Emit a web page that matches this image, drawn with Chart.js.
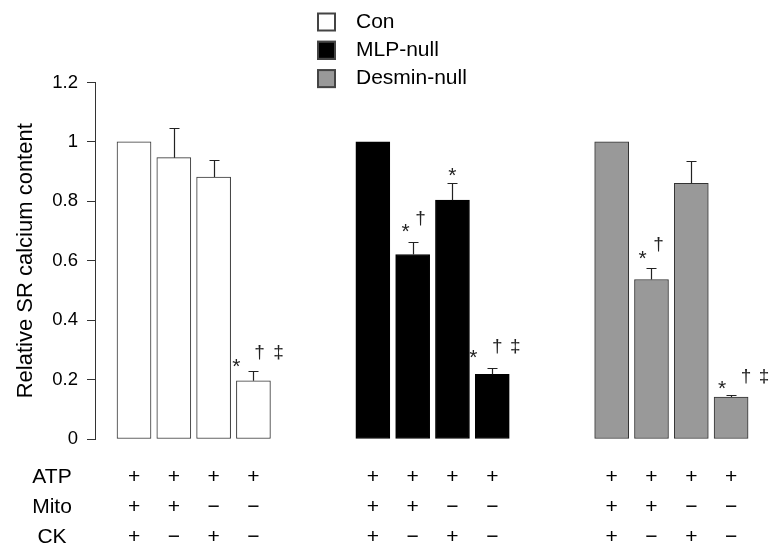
<!DOCTYPE html>
<html>
<head>
<meta charset="utf-8">
<script src="https://cdn.jsdelivr.net/npm/chart.js@4/dist/chart.umd.min.js"></script>
<style>
  html, body { margin: 0; padding: 0; background: #fff; }
  canvas { display: block; }
</style>
</head>
<body>
<canvas id="c" width="778" height="544"></canvas>
<script>
// ---------- data ----------
const seriesNames = ['Con', 'MLP-null', 'Desmin-null'];
const conValues = [1.0, 0.947, 0.882, 0.196];
const conErrors = [0, 0.099, 0.057, 0.033];
const mlpValues = [1.0, 0.621, 0.804, 0.218];
const mlpErrors = [0, 0.041, 0.058, 0.022];
const desminValues = [1.0, 0.537, 0.861, 0.141];
const desminErrors = [0, 0.039, 0.076, 0.007];
const conMarks = ['', '', '', '*†‡'];
const mlpMarks = ['', '*†', '*', '*†‡'];
const desminMarks = ['', '*†', '', '*†‡'];
const rowLabels = ['ATP', 'Mito', 'CK'];
const atpRow = ['+', '+', '+', '+'];
const mitoRow = ['+', '+', '\u2212', '\u2212'];
const ckRow = ['+', '\u2212', '+', '\u2212'];
const yTicks = [0, 0.2, 0.4, 0.6, 0.8, 1, 1.2];

// ---------- layout / style ----------
const FONT = '"Liberation Sans", Arial, Helvetica, sans-serif';
const groupStart = [0, 6, 12];
const fills = ['#ffffff', '#000000', '#999999'];
const borders = ['#333333', '#000000', '#333333'];
// pixel offsets of significance symbols relative to (bar centre, error-bar top)
const markOffsets = {
  '0-3': [[-17, -9], [6, -18], [25, -18]],
  '1-1': [[-7, -15], [8, -24]],
  '1-2': [[0, -12]],
  '1-3': [[-19, -14], [5, -21], [23, -21]],
  '2-1': [[-9, -14], [7, -23]],
  '2-3': [[-9, -11], [15, -18], [33, -18]]
};

const values = [conValues, mlpValues, desminValues];
const errors = [conErrors, mlpErrors, desminErrors];
const marks = [conMarks, mlpMarks, desminMarks];
const rows = [atpRow, mitoRow, ckRow];

const datasets = seriesNames.map((name, g) => ({
  label: name,
  data: values[g].map((v, i) => ({ x: groupStart[g] + i, y: v })),
  backgroundColor: fills[g],
  borderColor: borders[g],
  borderWidth: 1,
  borderSkipped: false,
  barThickness: 34,
  grouped: false
}));

const extras = {
  id: 'extras',
  afterDatasetsDraw(chart) {
    const ctx = chart.ctx;
    const xs = chart.scales.x, ys = chart.scales.y;
    ctx.save();
    // error bars
    ctx.strokeStyle = '#222';
    ctx.lineWidth = 1.2;
    values.forEach((vals, g) => {
      vals.forEach((v, i) => {
        const e = errors[g][i];
        if (!e) return;
        const x = Math.round(xs.getPixelForValue(groupStart[g] + i)) + 0.5;
        const y0 = ys.getPixelForValue(v);
        const y1 = Math.round(ys.getPixelForValue(v + e)) + 0.5;
        ctx.beginPath();
        ctx.moveTo(x, y0); ctx.lineTo(x, y1);
        ctx.moveTo(x - 5, y1); ctx.lineTo(x + 5, y1);
        ctx.stroke();
      });
    });
    // significance marks
    ctx.fillStyle = '#222';
    ctx.textAlign = 'center';
    ctx.textBaseline = 'middle';
    marks.forEach((ms, g) => {
      ms.forEach((m, i) => {
        if (!m) return;
        const offs = markOffsets[g + '-' + i];
        const x = xs.getPixelForValue(groupStart[g] + i);
        const y = ys.getPixelForValue(values[g][i] + errors[g][i]);
        Array.from(m).forEach((ch, k) => {
          ctx.font = (ch === '*' ? '21px ' : '19px ') + FONT;
          ctx.fillText(ch, x + offs[k][0], y + offs[k][1] + (ch === '*' ? 5 : 0));
        });
      });
    });
    // condition table
    ctx.fillStyle = '#000';
    ctx.font = '21px ' + FONT;
    const rowY = [477, 507, 537];
    rowLabels.forEach((lab, r) => {
      ctx.textAlign = 'center';
      ctx.fillText(lab, 52, rowY[r]);
      groupStart.forEach(gs => {
        rows[r].forEach((s, i) => {
          ctx.fillText(s, xs.getPixelForValue(gs + i), rowY[r]);
        });
      });
    });
    // legend
    ctx.textAlign = 'left';
    ctx.font = '21px ' + FONT;
    seriesNames.forEach((name, g) => {
      const cy = 22 + g * 28.3;
      ctx.fillStyle = fills[g];
      ctx.fillRect(317, cy - 9.5, 19, 19);
      ctx.strokeStyle = '#444';
      ctx.lineWidth = 2;
      ctx.strokeRect(318, cy - 8.5, 17, 17);
      ctx.fillStyle = '#000';
      ctx.fillText(name, 356, cy);
    });
    ctx.restore();
  }
};

new Chart(document.getElementById('c'), {
  type: 'bar',
  data: { datasets },
  options: {
    responsive: false,
    animation: false,
    layout: { padding: { top: 82.5, bottom: 105, left: 0, right: 27 } },
    plugins: { legend: { display: false }, tooltip: { enabled: false } },
    scales: {
      x: { type: 'linear', min: -0.98, max: 15.5, offset: false, display: false },
      y: {
        min: 0, max: 1.2,
        afterBuildTicks: s => { s.ticks = yTicks.map(v => ({ value: v })); },
        afterFit: s => { s.width = 95; },
        ticks: { color: '#000', font: { family: FONT, size: 18.5 }, padding: 9, callback: v => String(v) },
        grid: { drawOnChartArea: false, drawTicks: true, tickLength: 8, color: '#333' },
        border: { color: '#333', width: 1 },
        title: {
          display: true, text: 'Relative SR calcium content', color: '#000',
          font: { family: FONT, size: 22 }, padding: { top: 13, bottom: 0 }
        }
      }
    }
  },
  plugins: [extras]
});
</script>
</body>
</html>
